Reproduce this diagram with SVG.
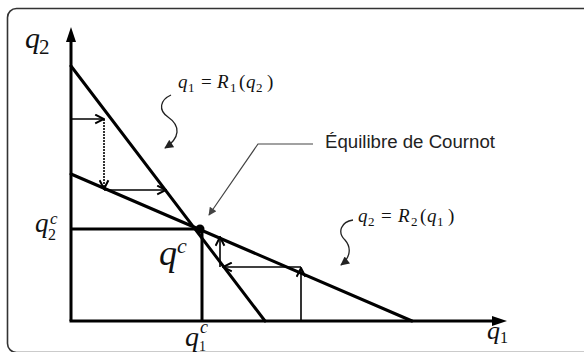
<svg xmlns="http://www.w3.org/2000/svg" width="584" height="352" viewBox="0 0 584 352">
<defs>
<style>
.m{font-family:"Liberation Serif","DejaVu Serif",serif;fill:#111}
.i{font-style:italic}
.ax{stroke:#000;stroke-width:3;fill:none}
.rl{stroke:#000;stroke-width:3;fill:none;stroke-linecap:round}
.th{stroke:#000;stroke-width:1.6;fill:none}
.dt{stroke:#000;stroke-width:1.6;fill:none;stroke-dasharray:2 1}
.wv{stroke:#222;stroke-width:1.3;fill:none}
.ld{stroke:#444;stroke-width:1.2;fill:none}
.lbl{font-family:"Liberation Sans",Arial,sans-serif;font-size:18px;fill:#222}
</style>
<marker id="open" viewBox="0 0 10 10" refX="9" refY="5" markerWidth="11" markerHeight="11" markerUnits="userSpaceOnUse" orient="auto">
<path d="M1,1 L9,5 L1,9" fill="none" stroke="#000" stroke-width="1.8"/>
</marker>
<marker id="fill" viewBox="0 0 10 10" refX="9" refY="5" markerWidth="10" markerHeight="9" markerUnits="userSpaceOnUse" orient="auto">
<path d="M0,0 L10,5 L0,10 Z" fill="#222"/>
</marker>
<marker id="thin" viewBox="0 0 10 10" refX="9" refY="5" markerWidth="10" markerHeight="8" markerUnits="userSpaceOnUse" orient="auto">
<path d="M0,0 L10,5 L0,10 Z" fill="#444"/>
</marker>
</defs>
<rect x="7.5" y="8.5" width="620" height="344" rx="9" fill="#fff" stroke="#333" stroke-width="1.6"/>

<g id="axes">
<line class="ax" x1="71" y1="321" x2="71" y2="40"/>
<path d="M71,27 L66,42 L76,42 Z" fill="#000"/>
<line class="ax" x1="69.5" y1="321" x2="494" y2="321"/>
<path d="M507,321 L492,316 L492,326 Z" fill="#000"/>
</g>

<g id="R1"><line class="rl" x1="71" y1="66" x2="265" y2="321"/></g>
<g id="R2"><line class="rl" x1="71" y1="174" x2="412" y2="321"/></g>

<g id="equilibrium">
<line class="ax" x1="71" y1="229" x2="201" y2="229" stroke-width="2.5"/>
<line class="ax" x1="202" y1="229" x2="202" y2="321" stroke-width="2.5"/>
<circle cx="200" cy="229" r="4.5" fill="#000"/>
</g>

<g id="connectors">
<line class="th" x1="71" y1="119" x2="104" y2="119" marker-end="url(#open)"/>
<line class="dt" x1="104" y1="119" x2="104" y2="189" marker-end="url(#open)"/>
<line class="th" x1="104" y1="190" x2="166" y2="190" marker-end="url(#open)"/>
<line class="th" x1="301" y1="321" x2="301" y2="268" marker-end="url(#open)"/>
<line class="th" x1="301" y1="267" x2="223" y2="267" marker-end="url(#open)"/>
<line class="th" x1="220" y1="267" x2="220" y2="237" marker-end="url(#open)"/>
<path class="wv" d="M171,95 C160,100 158,110 168,117 C181,126 180,138 165,148" marker-end="url(#fill)"/>
<path class="wv" d="M353,220 C341,222 337,232 345,240 C352,248 350,258 341,265" marker-end="url(#fill)"/>
<polyline class="ld" points="313,144 258,144 209,215" marker-end="url(#thin)"/>
</g>

<g id="labels">
<text class="m" y="48"><tspan class="i" x="25" font-size="30">q</tspan><tspan x="39" y="54" font-size="21">2</tspan></text>
<text class="m" font-size="19" y="88"><tspan class="i" x="178">q</tspan><tspan x="188" y="92" font-size="13">1</tspan><tspan x="201" y="88">=</tspan><tspan class="i" x="217" y="88">R</tspan><tspan x="230" y="92" font-size="13">1</tspan><tspan x="239" y="88">(</tspan><tspan class="i" x="246">q</tspan><tspan x="256" y="92" font-size="13">2</tspan><tspan x="267" y="88">)</tspan></text>
<text class="m" font-size="19" y="222"><tspan class="i" x="358">q</tspan><tspan x="368" y="226" font-size="13">2</tspan><tspan x="381" y="222">=</tspan><tspan class="i" x="398" y="222">R</tspan><tspan x="411" y="226" font-size="13">2</tspan><tspan x="420" y="222">(</tspan><tspan class="i" x="427">q</tspan><tspan x="437" y="226" font-size="13">1</tspan><tspan x="448" y="222">)</tspan></text>
<text class="lbl" x="325" y="148" textLength="170" lengthAdjust="spacingAndGlyphs">Équilibre de Cournot</text>
<text class="m" y="232"><tspan class="i" x="35" font-size="27">q</tspan><tspan class="i" x="50" y="224" font-size="17">c</tspan><tspan x="48" y="240" font-size="16">2</tspan></text>
<text class="m" y="265"><tspan class="i" x="159" font-size="36">q</tspan><tspan class="i" x="177" y="253" font-size="22">c</tspan></text>
<text class="m" y="346"><tspan class="i" x="185" font-size="28">q</tspan><tspan class="i" x="200" y="333" font-size="18">c</tspan><tspan x="199" y="351" font-size="14">1</tspan></text>
<text class="m" y="339"><tspan class="i" x="487" font-size="26">q</tspan><tspan x="500" y="343" font-size="16">1</tspan></text>
</g>
</svg>
